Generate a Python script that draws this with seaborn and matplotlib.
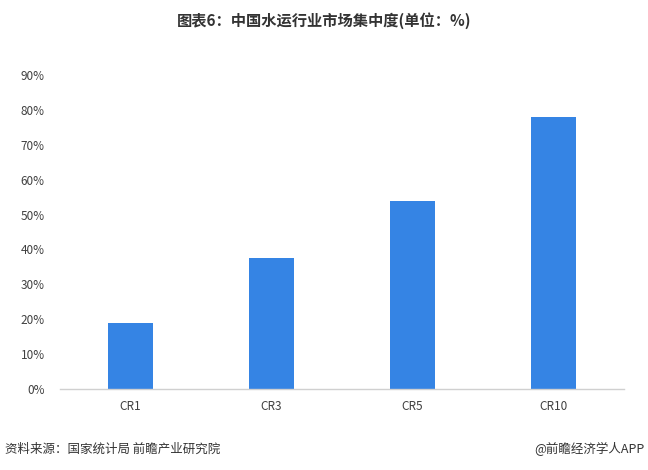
import matplotlib
matplotlib.use('Agg')
import matplotlib.pyplot as plt
import pandas as pd
import seaborn as sns
from matplotlib.ticker import PercentFormatter

categories = ['CR1', 'CR3', 'CR5', 'CR10']
values = [19.0, 37.5, 54.0, 78.0]
yticks = [0, 10, 20, 30, 40, 50, 60, 70, 80, 90]

df = pd.DataFrame({'cat': categories, 'val': values})

sns.set_style('white')
plt.rcParams['font.family'] = ['Noto Sans CJK SC', 'DejaVu Sans']

fig = plt.figure(figsize=(6.48, 4.70), dpi=100)
ax = fig.add_axes([0.0926, 0.1723, 0.8704, 0.6681])

sns.barplot(data=df, x='cat', y='val', color='#3584e4', saturation=1, width=0.32,
            linewidth=0, ax=ax)

ax.set_ylim(0, 90)
ax.set_yticks(yticks)
ax.yaxis.set_major_formatter(PercentFormatter(decimals=0))
ax.set_xlim(-0.5, 3.5)
ax.set_xlabel('')
ax.set_ylabel('')
ax.tick_params(axis='both', length=0, labelsize=8.5, colors='#404040')
ax.tick_params(axis='y', pad=11)
ax.tick_params(axis='x', pad=8)
for s in ['top', 'right', 'left']:
    ax.spines[s].set_visible(False)
ax.spines['bottom'].set_color('#d0d0d0')
ax.spines['bottom'].set_linewidth(1)

fig.text(0.5, 0.957, '图表6：中国水运行业市场集中度(单位：%)', ha='center', va='center',
         fontsize=11, fontweight='bold', color='#333333')
fig.text(0.008, 0.045, '资料来源：国家统计局 前瞻产业研究院', ha='left', va='center',
         fontsize=9, color='#333333')
fig.text(0.995, 0.045, '@前瞻经济学人APP', ha='right', va='center',
         fontsize=9, color='#333333')

plt.savefig('out.png', dpi=100)
